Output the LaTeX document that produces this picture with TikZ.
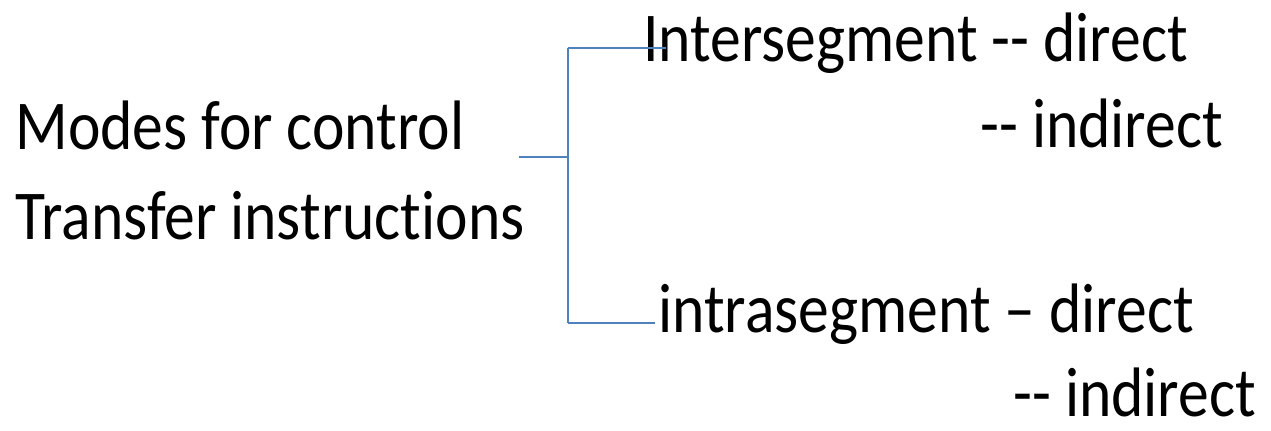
\documentclass[tikz,border=0pt]{standalone}
\usepackage{fontspec}
\setmainfont{Carlito}[FakeStretch=0.88,Ligatures=CommonOff]
\usetikzlibrary{positioning}
\definecolor{branchblue}{RGB}{79,129,189}
\tikzset{
    label text/.style={anchor=base west,inner sep=0pt,font=\fontsize{35}{42}\selectfont},
    branch/.style={draw=branchblue,line width=1.2pt},
  }

\begin{document}
\begin{tikzpicture}[x=0.5pt,y=-0.5pt]
  \useasboundingbox (0,0) rectangle (1271,431);
  % root text
  \node[label text] (modes) at (15,150) {Modes for control};
  \node[label text] (transfer) at (15,240) {Transfer instructions};
  % the two kinds of transfer
  \node[label text] (inter) at (643,62) {Intersegment -{}- direct};
  \node[label text] (interind) at (980,148) {-{}- indirect};
  \node[label text] (intra) at (658,333) {intrasegment – direct};
  \node[label text] (intraind) at (1013,417) {-{}- indirect};

  \coordinate (stem) at (519,157);
  \coordinate (fork) at (568,157);
  \coordinate (forktop) at (568,48);
  \coordinate (forkbot) at (568,323);
  \coordinate (intertip) at (666,48);
  \coordinate (intratip) at (655,323);

  \path[branch] (stem) -- (fork)
    (forktop) -- (forkbot)
    (forktop) -- (intertip)
    (forkbot) -- (intratip);
\end{tikzpicture}
\end{document}
